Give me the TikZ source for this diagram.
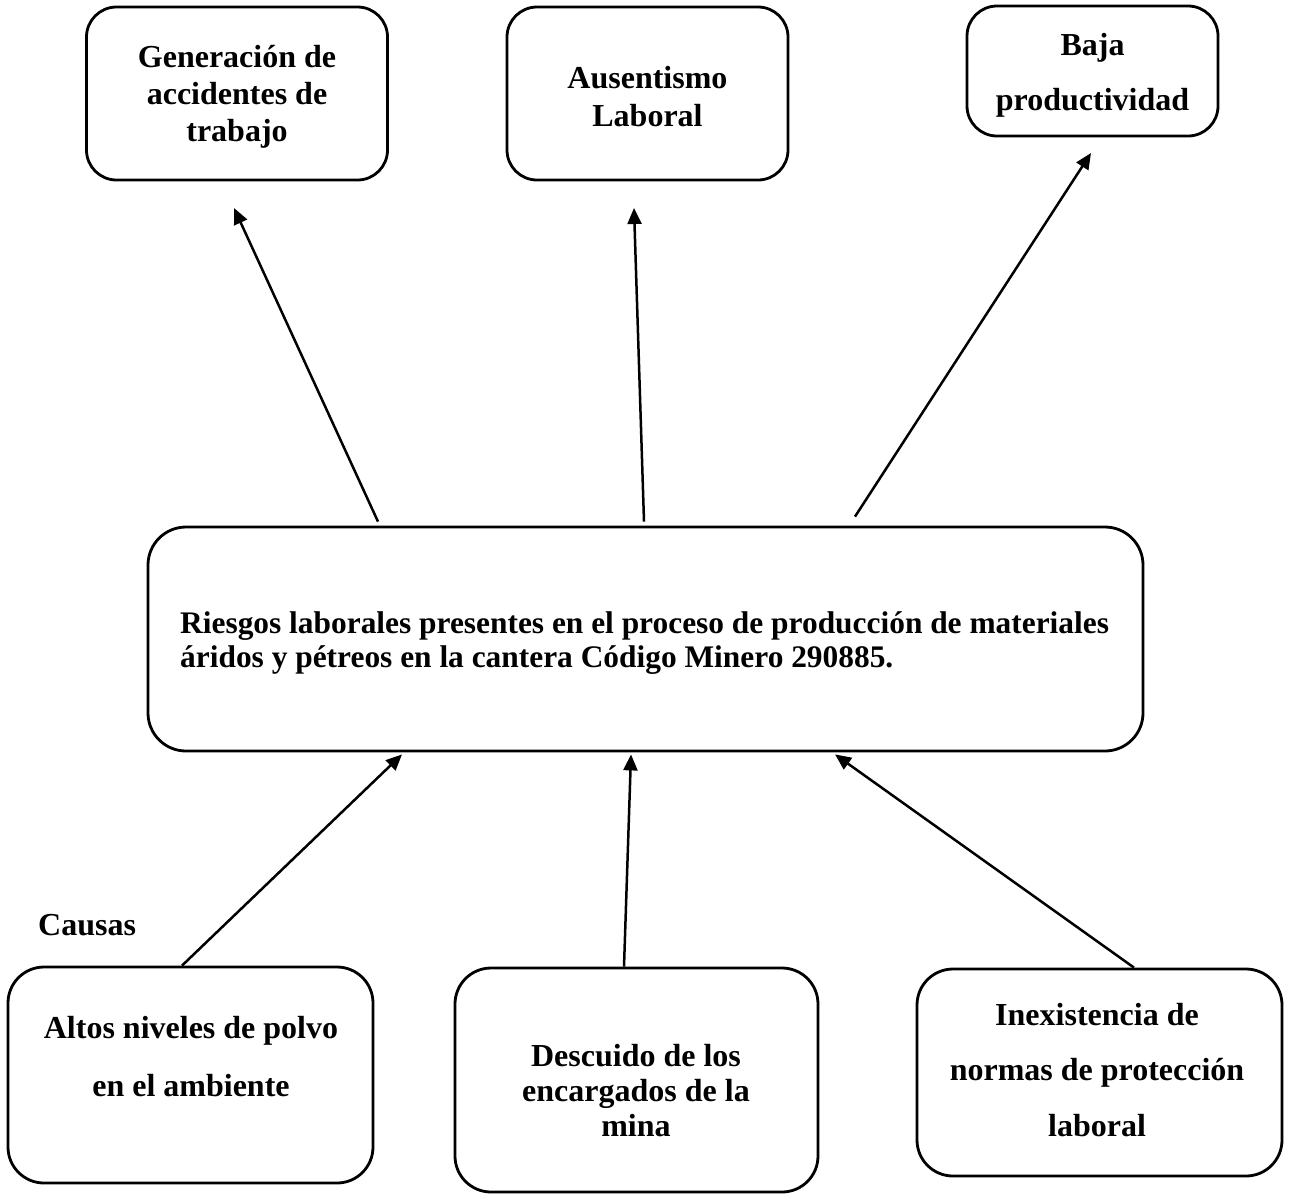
\documentclass[tikz,border=0pt]{standalone}
\usepackage{fontspec}
\setmainfont{Liberation Serif}
\usetikzlibrary{arrows.meta}

\begin{document}
\begin{tikzpicture}[x=1pt,y=-1pt,
    caja/.style={draw,line width=2.8pt,rounded corners=#1,inner sep=0pt},
    caja/.default=30pt,
    texto/.style={font=\bfseries\fontsize{32}{#1}\selectfont,align=center,inner sep=0pt},
    texto/.default=37,
    flecha/.style={line width=2.5pt,-{Triangle[length=16pt,width=14pt]}}]
        \useasboundingbox (0,0) rectangle (1290,1195);
        % efectos
        \node [caja,minimum width=301pt,minimum height=173pt] (gen) at (237,93.5) {};
        \node [caja,minimum width=281pt,minimum height=173pt] (aus) at (647.5,93.5) {};
        \node [caja,minimum width=251pt,minimum height=130pt] (baja) at (1092.5,71) {};
        \node [texto] (genT) at (237,97) {Generación de\\accidentes de\\trabajo};
        \node [texto=38] (ausT) at (647.5,97) {Ausentismo\\Laboral};
        \node [texto=55] (bajaT) at (1092.5,75.5) {Baja\\productividad};
        % problema central
        \node [caja=38pt,minimum width=995pt,minimum height=224pt] (riesgo) at (645.5,639) {};
        \node [texto=34,align=left,anchor=west,font=\bfseries\fontsize{31.4}{34}\selectfont] (riesgoT) at (180,643) {Riesgos laborales presentes en el proceso de producción de materiales\\áridos y pétreos en la cantera Código Minero 290885.};
        % causas
        \node [texto,anchor=base west] (causas) at (38,935) {Causas};
        \node [caja=36pt,minimum width=365pt,minimum height=216pt] (altos) at (190.5,1075) {};
        \node [caja=36pt,minimum width=363pt,minimum height=224pt] (descuido) at (636.5,1080) {};
        \node [caja=36pt,minimum width=365pt,minimum height=207pt] (inex) at (1099.5,1072.5) {};
        \node [texto=58] (altosT) at (191,1057) {Altos niveles de polvo\\en el ambiente};
        \node [texto=35] (descuidoT) at (636,1091) {Descuido de los\\encargados de la\\mina};
        \node [texto=55.5] (inexT) at (1097,1070) {Inexistencia de\\normas de protección\\laboral};
        % puntas de las flechas hacia los efectos
        \coordinate (p1) at (234,208);
        \coordinate (p2) at (634,208);
        \coordinate (p3) at (1091,153);
        \draw [flecha] ([yshift=4pt]riesgo.north -| 378,0) -- (p1);
        \draw [flecha] ([yshift=4pt]riesgo.north -| 644,0) -- (p2);
        \draw [flecha] ([yshift=9pt]riesgo.north -| 855,0) -- (p3);
        % flechas desde las causas
        \draw [flecha] (altos.north -| 182,0) -- ([yshift=-2pt]riesgo.south -| 402,0);
        \draw [flecha] (descuido.north -| 624,0) -- ([yshift=-2pt]riesgo.south -| 631,0);
        \draw [flecha] (inex.north -| 1134,0) -- ([yshift=-2pt]riesgo.south -| 835,0);
\end{tikzpicture}
\end{document}
